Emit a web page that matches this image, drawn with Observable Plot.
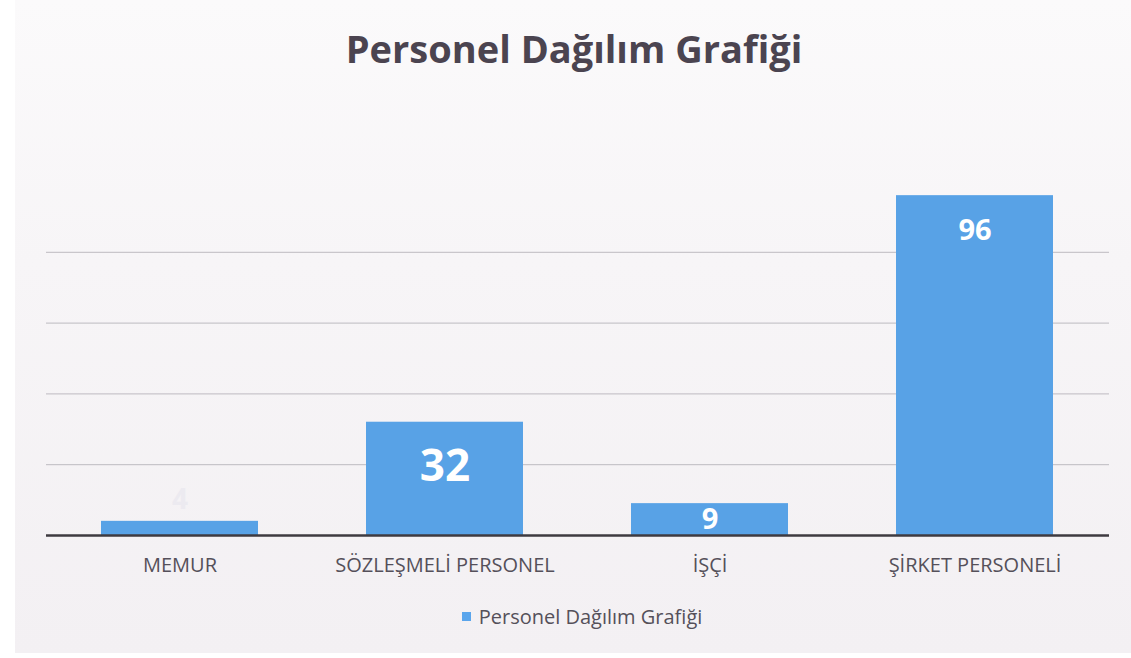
<!DOCTYPE html>
<html>
<head>
<meta charset="utf-8">
<script src="https://cdn.jsdelivr.net/npm/d3@7"></script>
<script src="https://cdn.jsdelivr.net/npm/@observablehq/plot@0.6"></script>
<style>
  html, body { margin: 0; padding: 0; background: #ffffff; }
  #wrap { position: relative; width: 1131px; height: 658px; overflow: hidden; }
  #panel { position: absolute; left: 15px; top: 0; width: 1116px; height: 653px;
           background: linear-gradient(#fbfafb 0%, #f7f5f7 40%, #f3f0f3 100%); }
  #title { position: absolute; left: 0; top: 22px; width: 1148px; text-align: center;
           font-family: "Open Sans", sans-serif; font-weight: 700; font-size: 38px;
           color: #4b4450; line-height: 52px; }
  #chart { position: absolute; left: 0; top: 100px; }
  #legend { position: absolute; left: 0; top: 602px; width: 1164px; text-align: center;
            font-family: "Open Sans", sans-serif; font-size: 20px; color: #55505a; line-height: 30px; }
  #legend .sw { display: inline-block; width: 9px; height: 9px; background: #5aa5ec;
                margin-right: 8px; vertical-align: 3px; }
</style>
</head>
<body>
<div id="wrap">
  <div id="panel"></div>
  <div id="title">Personel Dağılım Grafiği</div>
  <div id="chart"></div>
  <div id="legend"></div>
</div>
<script>
const categories = ["MEMUR", "SÖZLEŞMELİ PERSONEL", "İŞÇİ", "ŞİRKET PERSONELİ"];
const values = [4, 32, 9, 96];
const seriesName = "Personel Dağılım Grafiği";
const gridTicks = [20, 40, 60, 80];

const data = categories.map((c, i) => ({cat: c, value: values[i]}));
const barColor = "#58a2e6";

function label(cat, opts) {
  return Plot.text(data.filter(d => d.cat === cat), {
    x: "cat", y: "value", text: d => String(d.value),
    fontWeight: "bold", fontFamily: "Open Sans, sans-serif", ...opts
  });
}

const chart = Plot.plot({
  width: 1131,
  height: 480,
  marginLeft: 46,
  marginRight: 22,
  marginTop: 81,
  marginBottom: 45,
  style: {background: "transparent", fontFamily: "Open Sans, sans-serif"},
  x: {domain: categories, paddingInner: 0.406, paddingOuter: 0.203, label: null},
  y: {domain: [0, 100], axis: null},
  marks: [
    Plot.ruleY(gridTicks, {stroke: "#bdbbc0", strokeWidth: 1}),
    Plot.barY(data, {x: "cat", y: "value", fill: barColor}),
    Plot.ruleY([0], {stroke: "#3e3a40", strokeWidth: 2.5}),
    Plot.axisX({tickSize: 0, tickPadding: 22, fontSize: 20, fill: "#55505a", label: null}),
    label("MEMUR", {dy: -21, fontSize: 28, fill: "#eceaf0"}),
    label("SÖZLEŞMELİ PERSONEL", {dy: 45, fontSize: 44, fill: "white"}),
    label("İŞÇİ", {dy: 16, fontSize: 29, fill: "white"}),
    label("ŞİRKET PERSONELİ", {dy: 35, fontSize: 29, fill: "white"})
  ]
});
document.getElementById("chart").appendChild(chart);

const lg = document.getElementById("legend");
const sw = document.createElement("span");
sw.className = "sw";
lg.appendChild(sw);
lg.appendChild(document.createTextNode(seriesName));
</script>
</body>
</html>
